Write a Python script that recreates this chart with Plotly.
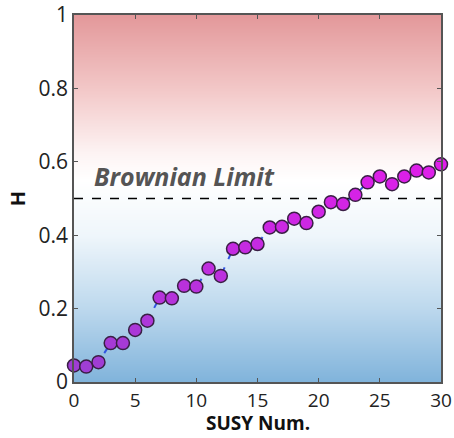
import plotly.graph_objects as go

susy_num = list(range(31))
h_values = [0.045, 0.042, 0.054, 0.106, 0.106, 0.142, 0.167, 0.230, 0.228, 0.262,
            0.260, 0.309, 0.289, 0.363, 0.367, 0.376, 0.421, 0.423, 0.445, 0.433,
            0.464, 0.490, 0.485, 0.510, 0.544, 0.560, 0.539, 0.560, 0.576, 0.571, 0.593]
brownian_limit = 0.5
x_ticks = [0, 5, 10, 15, 20, 25, 30]
y_ticks = [0, 0.2, 0.4, 0.6, 0.8, 1]
y_tick_labels = ["0", "0.2", "0.4", "0.6", "0.8", "1"]

# background gradient (stops)
bg_y = [0, 0.2, 0.4, 0.55, 0.62, 0.8, 1.0]
bg_z = [0, 1, 2, 3, 4, 5, 6]
bg_colors = ["#80b3db", "#bcd8ed", "#eff6fb", "#ffffff", "#fdf4f4", "#f2c7c7", "#e3989a"]
cs = [[i / 6, c] for i, c in enumerate(bg_colors)]

fig = go.Figure()
fig.add_trace(go.Heatmap(
    x=[0, 30], y=bg_y, z=[[v, v] for v in bg_z],
    colorscale=cs, showscale=False, zsmooth="best", hoverinfo="skip"))

fig.add_trace(go.Scatter(
    x=[0, 30], y=[brownian_limit, brownian_limit], mode="lines",
    line=dict(color="black", width=1.3, dash="dash"), hoverinfo="skip"))

fig.add_trace(go.Scatter(
    x=susy_num, y=h_values, mode="lines+markers",
    line=dict(color="#3355e0", width=2, dash="dash"),
    marker=dict(size=13, color=h_values,
                colorscale=[[0, "#9a40d2"], [1, "#e01eea"]],
                cmin=0, cmax=0.6,
                line=dict(color="#3a1f45", width=1.5)),
    cliponaxis=False))

fig.add_annotation(x=1.45, y=0.561, text="<b><i>Brownian Limit</i></b>",
                   showarrow=False, xanchor="left", yanchor="middle",
                   font=dict(family="Open Sans", size=25, color="#555555"))

# x-axis title as a paper annotation at the bottom of the page
fig.add_annotation(x=0.5, y=-0.1499, xref="paper", yref="paper",
                   text="<b>SUSY Num.</b>", showarrow=False,
                   xanchor="center", yanchor="bottom", borderpad=0,
                   font=dict(family="Open Sans", size=19, color="#111"))

fig.update_layout(
    width=454, height=438,
    margin=dict(l=74, r=13, t=15, b=56),
    paper_bgcolor="white", plot_bgcolor="white",
    showlegend=False,
    font=dict(family="Open Sans", color="#222222"),
)
fig.update_xaxes(
    range=[0, 30], tickvals=x_ticks, ticks="inside", ticklen=4,
    tickcolor="#555", showline=True, linecolor="#555", linewidth=1.5,
    mirror="ticks", showgrid=False, zeroline=False, automargin=False,
    ticklabelstandoff=0,
    tickfont=dict(family="Open Sans", size=19, color="#222"))
fig.update_yaxes(
    range=[0, 1], tickvals=y_ticks, ticktext=y_tick_labels, ticks="inside", ticklen=4,
    tickcolor="#555", showline=True, linecolor="#555", linewidth=1.5,
    mirror="ticks", showgrid=False, zeroline=False, automargin=False,
    tickfont=dict(family="Open Sans", size=21, color="#222"),
    title=dict(text="<b>H</b>", font=dict(family="Open Sans", size=20, color="#111"), standoff=8))

fig.write_html("out.html")
